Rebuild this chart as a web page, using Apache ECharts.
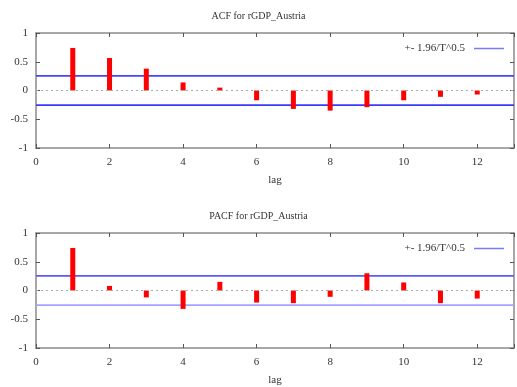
<!DOCTYPE html>
<html>
<head>
<meta charset="utf-8">
<script src="https://cdn.jsdelivr.net/npm/echarts@6/dist/echarts.min.js"></script>
<style>
  html, body { margin: 0; padding: 0; background: #fff; }
  #chart { width: 517px; height: 387px; }
</style>
</head>
<body>
<div id="chart"></div>
<script>
// Autocorrelation of rGDP_Austria, lags 1..12
const lags = [1, 2, 3, 4, 5, 6, 7, 8, 9, 10, 11, 12];
const acf = [0.74, 0.565, 0.38, 0.14, 0.05, -0.17, -0.32, -0.35, -0.29, -0.17, -0.11, -0.07];
const pacf = [0.74, 0.08, -0.12, -0.32, 0.15, -0.21, -0.22, -0.11, 0.30, 0.14, -0.22, -0.14];
// 1.96 / sqrt(T) confidence bound
const band = 0.253;
const bandName = '+- 1.96/T^0.5';

const FONT = 'Liberation Serif';
const frame = '#8a8a8a';

const grids = [
  { left: 36, right: 3, top: 33, height: 115 },
  { left: 36, right: 3, top: 233, height: 115 }
];

function xAxes(gi, name) {
  return [
    {
      type: 'value', gridIndex: gi, min: 0, max: 13, interval: 2,
      name: name, nameLocation: 'middle', nameGap: 27,
      nameTextStyle: { fontFamily: FONT, fontSize: 11, color: '#333' },
      axisLine: { onZero: false, lineStyle: { color: frame, width: 1.5 } },
      axisTick: { inside: true, length: 4, lineStyle: { color: '#555' } },
      axisLabel: { fontFamily: FONT, fontSize: 11, color: '#333', margin: 9,
        formatter: v => (v > 12 ? '' : String(v)) },
      splitLine: { show: false }
    },
    {
      type: 'value', gridIndex: gi, min: 0, max: 13, interval: 2, position: 'top',
      axisLine: { onZero: false, lineStyle: { color: frame, width: 1.5 } },
      axisTick: { inside: true, length: 4, lineStyle: { color: '#555' } },
      axisLabel: { show: false },
      splitLine: { show: false }
    }
  ];
}

function yAxes(gi) {
  return [
    {
      type: 'value', gridIndex: gi, min: -1, max: 1, interval: 0.5,
      axisLine: { onZero: false, lineStyle: { color: frame, width: 1.5 } },
      axisTick: { inside: true, length: 4, lineStyle: { color: '#555' } },
      axisLabel: { fontFamily: FONT, fontSize: 11, color: '#333', margin: 8 },
      splitLine: { show: false }
    },
    {
      type: 'value', gridIndex: gi, min: -1, max: 1, interval: 0.5, position: 'right',
      axisLine: { onZero: false, lineStyle: { color: frame, width: 1.5 } },
      axisTick: { inside: true, length: 4, lineStyle: { color: '#555' } },
      axisLabel: { show: false },
      splitLine: { show: false }
    }
  ];
}

function panelSeries(gi, values, upColor, lowColor, keyColor) {
  const xi = gi * 2, yi = gi * 2;
  return [
    {
      type: 'bar', xAxisIndex: xi, yAxisIndex: yi, barWidth: 5,
      itemStyle: { color: '#ff0000' },
      data: lags.map((l, i) => [l, values[i]]),
      markLine: {
        silent: true, symbol: 'none', label: { show: false },
        lineStyle: { color: '#aaaaaa', type: [2, 3], width: 1.2 },
        data: [{ yAxis: 0 }]
      },
      z: 3
    },
    {
      name: bandName, type: 'line', xAxisIndex: xi, yAxisIndex: yi,
      symbol: 'none', lineStyle: { color: upColor, width: 1.8 },
      itemStyle: { color: keyColor },
      data: [[0, band], [13, band]], z: 2
    },
    {
      type: 'line', xAxisIndex: xi, yAxisIndex: yi,
      symbol: 'none', lineStyle: { color: lowColor, width: 1.8 },
      data: [[0, -band], [13, -band]], z: 2
    }
  ];
}

const legendBase = {
  data: [bandName], right: 8, align: 'right', itemWidth: 30, itemHeight: 1.5,
  icon: 'rect', itemGap: 4, selectedMode: false,
  textStyle: { fontFamily: FONT, fontSize: 11, color: '#333', padding: [0, 4, 0, 0] }
};

const chart = echarts.init(document.getElementById('chart'));
chart.setOption({
  animation: false,
  backgroundColor: '#ffffff',
  title: [
    { text: 'ACF for rGDP_Austria', left: 'center', top: 6,
      textStyle: { fontFamily: FONT, fontSize: 10, fontWeight: 'normal', color: '#333' } },
    { text: 'PACF for rGDP_Austria', left: 'center', top: 206,
      textStyle: { fontFamily: FONT, fontSize: 10, fontWeight: 'normal', color: '#333' } }
  ],
  grid: grids,
  legend: [
    Object.assign({ top: 38 }, legendBase),
    Object.assign({ top: 238 }, legendBase)
  ],
  xAxis: [...xAxes(0, 'lag'), ...xAxes(1, 'lag')],
  yAxis: [...yAxes(0), ...yAxes(1)],
  series: [
    ...panelSeries(0, acf, '#4444ff', '#3a3aff', '#7a7aff'),
    ...panelSeries(1, pacf, '#5a5aff', '#a4a4ff', '#5a5aff')
  ]
});
</script>
</body>
</html>
